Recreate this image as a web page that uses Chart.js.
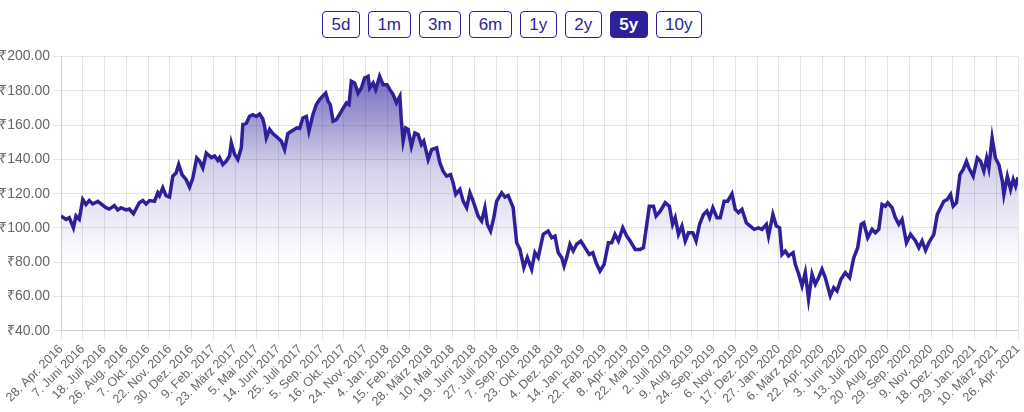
<!DOCTYPE html>
<html>
<head>
<meta charset="utf-8">
<script src="https://cdn.jsdelivr.net/npm/chart.js@4"></script>
<style>
    body { margin: 0; background: #fff; font-family: "Liberation Sans", Arial, sans-serif; }
    .ranges { position: absolute; top: 11px; left: 0; width: 1024px; text-align: center; font-size: 0; }
    .ranges button {
        font-family: "Liberation Sans", Arial, sans-serif;
        font-size: 17px; color: #2e1f9a; background: #fff;
        border: 1.5px solid #2e1f9a; border-radius: 4px;
        height: 27px; padding: 0 8.5px; margin: 0 4px; line-height: 24px;
    }
    .ranges button.active { background: #2e1f9a; color: #fff; font-weight: bold; }
    .wrap { position: absolute; top: 45px; left: 0; width: 1024px; height: 367px; }
</style>
</head>
<body>
<div class="ranges">
    <button>5d</button><button>1m</button><button>3m</button><button>6m</button><button>1y</button><button>2y</button><button class="active">5y</button><button>10y</button>
</div>
<div class="wrap"><canvas id="priceChart"></canvas></div>
<script>
// date labels under the x axis (one per gridline)
const xLabels = [
    '28. Apr. 2016', '7. Juni 2016', '18. Juli 2016', '26. Aug. 2016', '7. Okt. 2016', '22. Nov. 2016',
    '30. Dez. 2016', '9. Feb. 2017', '23. März 2017', '5. Mai 2017', '14. Juni 2017', '25. Juli 2017',
    '5. Sep. 2017', '16. Okt. 2017', '24. Nov. 2017', '4. Jan. 2018', '15. Feb. 2018', '28. März 2018',
    '10. Mai 2018', '19. Juni 2018', '27. Juli 2018', '7. Sep. 2018', '23. Okt. 2018', '4. Dez. 2018',
    '14. Jan. 2019', '22. Feb. 2019', '8. Apr. 2019', '22. Mai 2019', '2. Juli 2019', '9. Aug. 2019',
    '24. Sep. 2019', '6. Nov. 2019', '17. Dez. 2019', '27. Jan. 2020', '6. März 2020', '22. Apr. 2020',
    '3. Juni 2020', '13. Juli 2020', '20. Aug. 2020', '29. Sep. 2020', '9. Nov. 2020', '18. Dez. 2020',
    '29. Jan. 2021', '10. März 2021', '26. Apr. 2021'
];

// position of each price along the date axis, counted in label steps
const xPos = [
    0, 0.23, 0.38, 0.57, 0.69, 0.84, 1.0, 1.15, 1.30, 1.46, 1.69, 1.84, 2.07, 2.22, 2.45, 2.61, 2.76, 2.99,
    3.14, 3.33, 3.60, 3.76, 3.91, 4.07, 4.30, 4.45, 4.53, 4.68, 4.83, 4.99, 5.14, 5.29, 5.41, 5.57, 5.75, 5.91,
    6.06, 6.24, 6.37, 6.52, 6.68, 6.91, 7.06, 7.21, 7.29, 7.44, 7.60, 7.75, 7.83, 7.98, 8.13, 8.29, 8.36, 8.52,
    8.67, 8.82, 8.98, 9.13, 9.28, 9.36, 9.44, 9.59, 9.74, 9.97, 10.13, 10.28, 10.43, 10.59, 10.74, 10.85, 10.97,
    11.12, 11.28, 11.40, 11.58, 11.74, 11.89, 12.02, 12.17, 12.28, 12.38, 12.51, 12.66, 12.89, 13.12, 13.24,
    13.35, 13.50, 13.66, 13.81, 13.96, 14.12, 14.19, 14.35, 14.47, 14.65, 14.81, 14.99, 15.12, 15.27, 15.42,
    15.58, 15.65, 15.73, 15.85, 15.96, 16.11, 16.27, 16.42, 16.57, 16.68, 16.88, 17.04, 17.27, 17.42, 17.57,
    17.73, 17.91, 18.03, 18.15, 18.34, 18.49, 18.65, 18.80, 18.95, 19.18, 19.34, 19.49, 19.60, 19.75, 19.90,
    20.03, 20.26, 20.41, 20.56, 20.79, 20.95, 21.10, 21.28, 21.44, 21.64, 21.79, 21.94, 22.17, 22.40, 22.56,
    22.71, 22.86, 23.02, 23.13, 23.25, 23.40, 23.55, 23.71, 23.90, 24.09, 24.29, 24.45, 24.60, 24.78, 24.97,
    25.17, 25.32, 25.47, 25.63, 25.83, 26.01, 26.17, 26.40, 26.63, 26.78, 26.90, 27.05, 27.24, 27.36, 27.55,
    27.78, 27.97, 28.12, 28.24, 28.39, 28.55, 28.70, 28.85, 29.05, 29.20, 29.36, 29.54, 29.70, 29.82, 29.97,
    30.16, 30.31, 30.49, 30.65, 30.85, 31.00, 31.15, 31.31, 31.51, 31.69, 31.87, 32.07, 32.23, 32.43, 32.53,
    32.73, 32.89, 33.04, 33.15, 33.30, 33.45, 33.66, 33.76, 33.92, 34.07, 34.22, 34.37, 34.53, 34.68, 34.83,
    34.99, 35.14, 35.37, 35.53, 35.68, 35.86, 36.06, 36.26, 36.45, 36.63, 36.79, 36.91, 37.09, 37.29, 37.44,
    37.60, 37.75, 37.90, 38.01, 38.21, 38.36, 38.52, 38.67, 38.87, 39.06, 39.29, 39.44, 39.59, 39.75, 39.90,
    40.13, 40.29, 40.44, 40.59, 40.75, 40.90, 41.02, 41.17, 41.33, 41.48, 41.63, 41.74, 41.94, 42.13, 42.28,
    42.43, 42.56, 42.66, 42.81, 42.96, 43.12, 43.28, 43.35, 43.51, 43.66, 43.78, 43.89, 44
];

// share price in rupees
const price = [
    107, 105, 106, 100.1, 107, 105, 116.6, 113.7, 116, 114, 115.5, 114, 111.8, 111, 113, 110.5, 111.8, 110.5,
    111, 108.3, 114.7, 116, 114, 116, 115.5, 120.5, 118.8, 123.4, 118.8, 118, 130.2, 132, 137, 131, 128.3, 123.8,
    129, 140.8, 139, 135, 143.7, 141, 142, 139.4, 141, 137, 139, 142, 149.6, 143, 139.9, 146.7, 160.3, 161,
    165.1, 166, 165, 166.4, 163.5, 159.3, 152.5, 157.5, 155, 152.5, 150.6, 145.7, 155, 156.4, 157.5, 158.4, 158,
    164.1, 165, 156.4, 166, 171.9, 174.8, 176.7, 178.6, 173.8, 171.9, 162.2, 163.1, 168, 172.9, 171.9,
    185.5, 184.5, 178.6, 181.6, 187.4, 188.4, 181.6, 184.5, 180.6, 188.4, 183.5, 183.5, 180.6, 177.7, 172.9,
    176.7, 162.2, 150.6, 158.3, 157.5, 147.6, 155.4, 154.5, 148.6, 150.6, 139.9, 145.7, 146.7, 138, 133.1,
    130.2, 131.1, 126.3, 119.6, 122.5, 115.6, 111.8, 120.5, 115.6, 106.9, 104, 111.8, 102.1, 98.2, 106,
    115.6, 120.5, 118, 119, 111.8, 91.4, 87.5, 76.9, 82.7, 75.9, 85.6, 82.7, 96.3, 98.2, 94.3,
    95.3, 85.6, 82.7, 77.8, 82.7, 90.5, 86.6, 90.5, 92.4, 88.5, 84.6, 85.6, 79.8, 74.9, 78.8,
    91.4, 91.4, 96.3, 92.4, 100.1, 95.3, 92.4, 87.5, 87.5, 88.5, 99.2, 112.7, 112.7, 106.9, 109.8,
    114.7, 112.7, 102.1, 106, 96.3, 101.1, 92.4, 97.2, 97.2, 92.4, 102.1, 107.9, 109.8, 106, 111.8,
    106, 106, 115.6, 115.6, 119.9, 110.8, 109, 110.8, 103, 101.1, 99.2, 100.1, 99.2, 102.1, 95.3,
    107.9, 101.1, 100.1, 84.6, 86.6, 83.7, 85.6, 78.8, 73, 66.2, 74, 58.5, 73, 67.2, 71,
    75.9, 71, 60.4, 65.2, 63.3, 70.1, 73.9, 71, 82.7, 88.5, 102.1, 103, 94.3, 99.2, 97.2,
    99.2, 113.7, 112.7, 114.7, 111.8, 106, 102.1, 105, 91.4, 96.3, 92.4, 88.5, 92.4, 87, 91.4,
    96.3, 107.9, 111.8, 115.6, 116.6, 119.5, 112.7, 114.7, 131.1, 134.1, 138.9, 135, 130.2, 140.8, 138.9,
    133.1, 140.8, 135, 152.5, 140.8, 137, 127.3, 119.5, 130.2, 122.5, 128.3, 124.4, 129.6
];

const yMin = 40;
const yMax = 200;
const yStep = 20;

const lineColor = '#2e1f9a';

function areaFill(context) {
    const chart = context.chart;
    const area = chart.chartArea;
    if (!area) return 'rgba(46,31,154,0.3)';
    const bottom = chart.scales.y.getPixelForValue(80);
    const g = chart.ctx.createLinearGradient(0, area.top, 0, bottom);
    g.addColorStop(0, 'rgba(46,31,154,0.75)');
    g.addColorStop(0.55, 'rgba(46,31,154,0.2)');
    g.addColorStop(1, 'rgba(46,31,154,0)');
    return g;
}

new Chart(document.getElementById('priceChart'), {
    type: 'line',
    data: {
        datasets: [{
            data: xPos.map((x, i) => ({ x: x, y: price[i] })),
            borderColor: lineColor,
            borderWidth: 3.5,
            backgroundColor: areaFill,
            fill: 'start',
            pointRadius: 0,
            tension: 0
        }]
    },
    options: {
        responsive: true,
        maintainAspectRatio: false,
        animation: false,
        layout: { padding: { top: 2, right: 0 } },
        plugins: { legend: { display: false }, tooltip: { enabled: false } },
        scales: {
            x: {
                type: 'linear',
                min: 0,
                max: xLabels.length - 1,
                afterFit: s => { s.paddingLeft = 0; s.paddingRight = 6; },
                ticks: {
                    stepSize: 1,
                    autoSkip: false,
                    maxRotation: 45,
                    minRotation: 45,
                    color: '#666',
                    font: { size: 12.5, family: 'Liberation Sans' },
                    callback: v => xLabels[v]
                }
            },
            y: {
                min: yMin,
                max: yMax,
                afterFit: s => { s.width = 61; },
                ticks: {
                    stepSize: yStep,
                    color: '#666',
                    font: { size: 14, family: 'Liberation Sans' },
                    callback: v => '₹' + v.toFixed(2)
                }
            }
        }
    }
});
</script>
</body>
</html>
